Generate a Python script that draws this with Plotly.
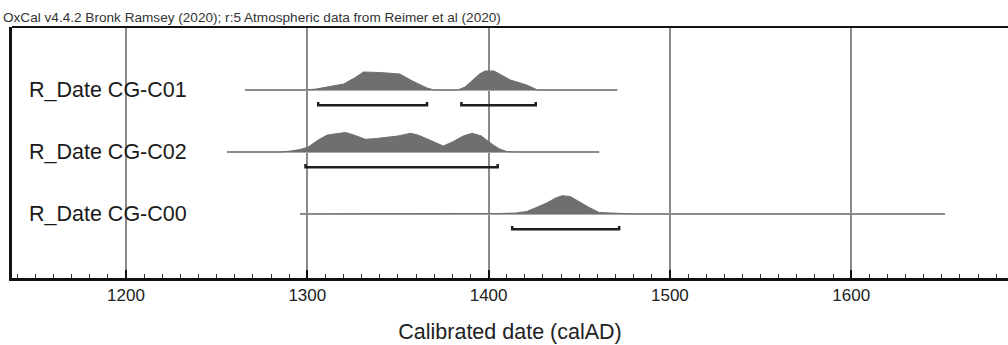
import plotly.graph_objects as go

# ---- data ----
sample_names = ["R_Date CG-C01", "R_Date CG-C02", "R_Date CG-C00"]

c01_years = [1265.6, 1299, 1305, 1312, 1320, 1326, 1331, 1340, 1351, 1358, 1366, 1370,
             1383, 1387, 1391, 1395, 1398, 1403, 1407, 1412, 1421, 1427, 1471]
c01_dens = [0, 0, 1, 3, 6, 12, 18, 17.5, 16, 9, 2, 0,
            0, 3, 10, 16, 19, 19, 15, 10, 5, 0, 0]

c02_years = [1255.7, 1285, 1291, 1296, 1300.5, 1306, 1311, 1316, 1321, 1325, 1332, 1338,
             1344, 1350, 1357, 1361, 1364, 1370, 1375, 1380, 1386, 1391, 1396, 1402,
             1406, 1410, 1414, 1461]
c02_dens = [0, 0, 1, 2.5, 5, 12, 17, 18.5, 19.5, 17.5, 12.7, 13.5,
            14.5, 16, 18.7, 17, 14.7, 10, 6, 10, 16, 18.7, 16, 7.7,
            3, 0.5, 0, 0]

c00_years = [1296, 1400, 1406, 1415, 1421, 1427, 1432, 1437, 1440.5, 1445, 1450, 1455,
             1461, 1470, 1480, 1651.7]
c00_dens = [0, 0, 0.5, 1, 2.5, 7, 11, 16, 18.3, 17.5, 12, 7,
            1.5, 0.5, 0, 0]

# 95.4% ranges
hpd_ranges = [
    [(1306, 1366), (1385, 1426)],
    [(1299, 1405)],
    [(1413, 1472)],
]

x_ticks = [1200, 1300, 1400, 1500, 1600]
title_text = "OxCal v4.4.2 Bronk Ramsey (2020); r:5 Atmospheric data from Reimer et al (2020)"
x_title = "Calibrated date (calAD)"

# ---- figure ----
FONT = "Liberation Sans, Arial, sans-serif"
SCALE = 1 / 62.0      # density units -> row units
HOOK = 0.05
BRACKET_OFF = 0.245

fig = go.Figure()
series = [(c01_years, c01_dens), (c02_years, c02_dens), (c00_years, c00_dens)]
for i, (yrs, dens) in enumerate(series):
    fig.add_trace(go.Scatter(x=[yrs[0], yrs[-1]], y=[i, i], mode="lines",
                             line=dict(color="#a8a8a8", width=2), hoverinfo="skip",
                             showlegend=False))
    fig.add_trace(go.Scatter(x=yrs, y=[i] * len(yrs), mode="lines",
                             line=dict(width=0), hoverinfo="skip", showlegend=False))
    fig.add_trace(go.Scatter(x=yrs, y=[i - d * SCALE for d in dens], mode="lines",
                             fill="tonexty", fillcolor="#6f6f6f",
                             line=dict(color="#6f6f6f", width=1), showlegend=False))
    bx, by = [], []
    for (a, b) in hpd_ranges[i]:
        yb = i + BRACKET_OFF
        bx += [a, a, b, b, None]
        by += [yb - HOOK, yb, yb, yb - HOOK, None]
    fig.add_trace(go.Scatter(x=bx, y=by, mode="lines",
                             line=dict(color="#1e1e1e", width=2.5), hoverinfo="skip",
                             showlegend=False))
    fig.add_annotation(x=(27 - 12) / 996, xref="paper", y=i, yref="y",
                       text=sample_names[i], showarrow=False, xanchor="left",
                       yanchor="middle",
                       font=dict(family=FONT, size=21.5, color="#1a1a1a"))

fig.add_annotation(x=-0.011, xref="paper", y=1, yref="paper", yshift=0,
                   text=title_text, showarrow=False, xanchor="left", yanchor="bottom",
                   font=dict(family=FONT, size=13.6, color="#333333"))

fig.add_shape(type="line", xref="paper", yref="paper", x0=0, x1=1, y0=1, y1=1,
              line=dict(color="#111111", width=2))

fig.update_layout(
    width=1008, height=345,
    margin=dict(l=12, r=0, t=27, b=67),
    paper_bgcolor="white", plot_bgcolor="white",
    xaxis=dict(range=[1137.1, 1686.5], tickvals=x_ticks,
               ticktext=[str(v) for v in x_ticks],
               showgrid=True, gridcolor="#8a8a8a", gridwidth=1.5,
               zeroline=False, showline=True, linecolor="#111111", linewidth=2.5,
               ticks="inside", ticklen=8, tickwidth=2, tickcolor="#111111",
               minor=dict(dtick=10, tick0=1200, ticks="inside", ticklen=4,
                          tickwidth=1, tickcolor="#333333", showgrid=False),
               tickfont=dict(family=FONT, size=17, color="#222222"),
               title=dict(text=x_title, font=dict(family=FONT, size=21.5, color="#222222"),
                          standoff=20)),
    yaxis=dict(range=[3.032, -1.016], showgrid=False, zeroline=False,
               showticklabels=False, showline=True, linecolor="#111111", linewidth=3,
               ticks=""),
)

fig.write_html("out.html", config={"displayModeBar": False},
               post_script="document.body.style.margin='0';document.body.style.overflow='hidden';")
